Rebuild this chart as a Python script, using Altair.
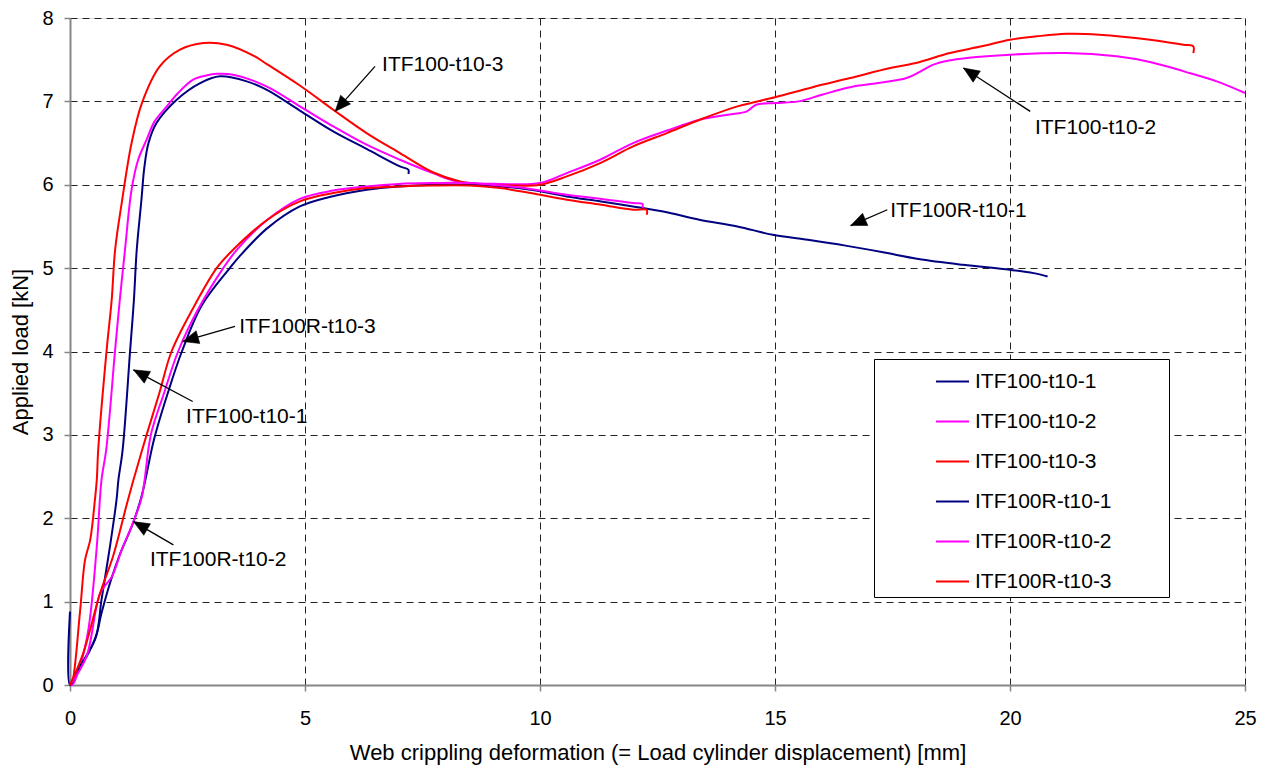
import math
import altair as alt
import pandas as pd

FONT = "Liberation Sans"
W, H = 1175, 667
X_MAX, Y_MAX = 25, 8

SERIES = ["ITF100-t10-1", "ITF100-t10-2", "ITF100-t10-3",
          "ITF100R-t10-1", "ITF100R-t10-2", "ITF100R-t10-3"]
COLORS = ["#000080", "#FF00FF", "#FF0000", "#000080", "#FF00FF", "#FF0000"]

# ITF100-t10-1 (navy, steep)
s1_x = [0, 0.14, 0.39, 0.57, 0.67, 0.85, 0.99, 1.03, 1.12, 1.28, 1.36, 1.42, 1.52, 1.58,
        1.67, 1.84, 2.27, 2.77, 3.19, 3.76, 4.18, 4.89, 5.6, 6.31, 7.02, 7.2, 7.2]
s1_y = [0, 0.14, 0.38, 0.62, 1.02, 1.66, 2.22, 2.46, 2.82, 4.02, 4.62, 5.22, 5.82, 6.2,
        6.50, 6.74, 7.02, 7.22, 7.30, 7.24, 7.14, 6.89, 6.64, 6.43, 6.22, 6.18, 6.13]

# ITF100-t10-2 (magenta, steep then rising)
s2_x = [0, 0.05, 0.21, 0.39, 0.57, 0.67, 0.77, 0.96, 1.06, 1.17, 1.31, 1.45, 1.63, 1.8,
        2.06, 2.3, 2.62, 2.9, 3.12, 3.47, 4.18, 4.89, 5.6, 6.31, 7.02, 7.72, 8.23, 9.15,
        10.0, 10.57, 11.28, 11.98, 12.7, 13.4, 14.0, 14.4, 14.6, 15.0, 15.5, 16.0, 16.6,
        17.2, 17.8, 18.1, 18.37, 18.7, 19.08, 20.0, 21.2, 22.27, 23.0, 23.7, 24.4, 25.0]
s2_y = [0, 0.0, 0.22, 0.66, 1.66, 2.46, 2.82, 4.02, 4.62, 5.22, 5.94, 6.3, 6.54, 6.76,
        6.94, 7.1, 7.26, 7.31, 7.33, 7.32, 7.18, 6.94, 6.70, 6.48, 6.30, 6.14, 6.04, 6.01,
        6.02, 6.14, 6.30, 6.50, 6.65, 6.78, 6.84, 6.88, 6.96, 6.98, 7.0, 7.08, 7.17,
        7.22, 7.28, 7.36, 7.44, 7.49, 7.52, 7.56, 7.58, 7.54, 7.47, 7.36, 7.24, 7.10]

# ITF100-t10-3 (red, steep then rising)
s3_x = [0, 0.04, 0.21, 0.32, 0.43, 0.53, 0.57, 0.60, 0.78, 0.887, 0.96, 1.10, 1.31, 1.53,
        1.91, 2.34, 2.84, 3.33, 3.90, 4.18, 4.89, 5.60, 6.31, 7.02, 7.72, 8.30, 8.87, 9.50,
        10.0, 10.57, 11.28, 11.98, 12.70, 13.40, 14.2, 15.0, 15.8, 16.6, 17.45, 18.0,
        18.72, 19.4, 20.0, 20.57, 21.2, 21.9, 22.98, 23.69, 23.9, 23.9]
s3_y = [0, 0.02, 0.86, 1.50, 1.74, 2.22, 2.46, 2.82, 4.02, 4.62, 5.22, 5.78, 6.50, 6.98,
        7.42, 7.62, 7.70, 7.68, 7.55, 7.45, 7.19, 6.90, 6.62, 6.38, 6.15, 6.04, 6.00, 5.99,
        6.00, 6.10, 6.26, 6.46, 6.62, 6.78, 6.94, 7.05, 7.17, 7.28, 7.40, 7.46,
        7.58, 7.66, 7.74, 7.78, 7.81, 7.80, 7.74, 7.68, 7.66, 7.58]

# ITF100R-t10-1 (navy, gradual)
s4_x = [0, 0, 0.21, 0.53, 0.67, 0.85, 1.05, 1.34, 1.53, 1.79, 2.08, 2.38, 2.8, 3.40, 3.62,
        4.2, 4.89, 5.5, 6.31, 7.0, 7.72, 8.5, 9.15, 9.8, 10.57, 11.3, 11.98, 12.7, 13.39,
        14.2, 14.95, 15.7, 16.5, 17.3, 18.05, 19.0, 19.99, 20.5, 20.8]
s4_y = [0.88, 0, 0.22, 0.54, 0.86, 1.22, 1.55, 1.94, 2.28, 2.95, 3.5, 4.0, 4.55, 5.0, 5.15,
        5.48, 5.74, 5.85, 5.94, 5.98, 6.0, 6.0, 5.98, 5.94, 5.86, 5.80, 5.74, 5.67, 5.58,
        5.50, 5.40, 5.34, 5.27, 5.19, 5.11, 5.04, 4.98, 4.94, 4.90]

# ITF100R-t10-2 (magenta, gradual)
s5_x = [0, 0.35, 0.64, 0.89, 1.1, 1.35, 1.53, 1.72, 2.0, 2.30, 2.72, 3.26, 3.55, 4.2, 4.89,
        5.6, 6.31, 7.0, 7.72, 8.5, 9.15, 9.8, 10.57, 11.3, 11.98, 12.18, 12.18]
s5_y = [0, 0.34, 1.10, 1.30, 1.62, 1.96, 2.26, 3.0, 3.5, 4.0, 4.5, 5.0, 5.22, 5.58, 5.83,
        5.93, 5.98, 6.01, 6.02, 6.02, 5.99, 5.95, 5.88, 5.83, 5.78, 5.77, 5.72]

# ITF100R-t10-3 (red, gradual)
s6_x = [0, 0.28, 0.64, 0.92, 1.2, 1.35, 1.63, 1.9, 2.16, 2.6, 3.12, 3.47, 4.2, 4.89, 5.6,
        6.31, 7.0, 7.72, 8.5, 9.15, 9.8, 10.57, 11.3, 11.98, 12.27, 12.27]
s6_y = [0, 0.38, 1.10, 1.55, 2.15, 2.46, 3.0, 3.5, 4.0, 4.5, 5.0, 5.22, 5.58, 5.80, 5.90,
        5.96, 5.98, 5.99, 5.99, 5.96, 5.90, 5.82, 5.76, 5.70, 5.70, 5.64]

SERIES_X = [s1_x, s2_x, s3_x, s4_x, s5_x, s6_x]
SERIES_Y = [s1_y, s2_y, s3_y, s4_y, s5_y, s6_y]

# annotations (data coordinates)
ann_text = ["ITF100-t10-3", "ITF100-t10-2", "ITF100R-t10-1",
            "ITF100R-t10-3", "ITF100-t10-1", "ITF100R-t10-2"]
ann_tx = [6.64, 20.53, 17.45, 3.60, 2.47, 1.70]
ann_ty = [7.44, 6.68, 5.69, 4.29, 3.21, 1.50]
arr_x0 = [6.49, 20.43, 17.39, 3.51, 2.61, 2.20]
arr_y0 = [7.42, 6.88, 5.70, 4.30, 3.40, 1.68]
arr_x1 = [5.64, 19.01, 16.61, 2.40, 1.35, 1.35]
arr_y1 = [6.88, 7.40, 5.51, 4.12, 3.78, 1.96]

X_TICKS = [0, 5, 10, 15, 20, 25]
Y_TICKS = [0, 1, 2, 3, 4, 5, 6, 7, 8]

rows = []
for name, xs, ys in zip(SERIES, SERIES_X, SERIES_Y):
    for i, (xv, yv) in enumerate(zip(xs, ys)):
        rows.append({"series": name, "x": xv, "y": yv, "idx": i})
df = pd.DataFrame(rows)

px_x = W / X_MAX
px_y = H / Y_MAX
angles = []
for x0, y0, x1, y1 in zip(arr_x0, arr_y0, arr_x1, arr_y1):
    dx = (x1 - x0) * px_x
    dy = -(y1 - y0) * px_y
    angles.append(math.degrees(math.atan2(dx, -dy)) % 360)

ann = pd.DataFrame({"text": ann_text, "tx": ann_tx, "ty": ann_ty,
                    "x0": arr_x0, "y0": arr_y0, "x1": arr_x1, "y1": arr_y1,
                    "angle": angles})

xscale = alt.Scale(domain=[0, X_MAX], nice=False, zero=False)
yscale = alt.Scale(domain=[0, Y_MAX], nice=False, zero=False)

xaxis = alt.Axis(values=X_TICKS, format="d",
                 title="Web crippling deformation (= Load cylinder displacement) [mm]",
                 grid=True, gridDash=[7, 5], gridColor="#222222", gridWidth=1,
                 domainColor="#868686", domainWidth=2, tickColor="#868686", tickWidth=1.5,
                 tickSize=6, labelFont=FONT, labelFontSize=20, labelColor="black",
                 labelPadding=17, titleFont=FONT, titleFontSize=22, titleFontWeight="normal",
                 titleColor="black", titlePadding=14, labelFlush=False)
yaxis = alt.Axis(values=Y_TICKS, format="d", title="Applied load [kN]",
                 grid=True, gridDash=[7, 5], gridColor="#222222", gridWidth=1,
                 domainColor="#868686", domainWidth=2, tickColor="#868686", tickWidth=1.5,
                 tickSize=6, labelFont=FONT, labelFontSize=20, labelColor="black",
                 labelPadding=11, titleFont=FONT, titleFontSize=22, titleFontWeight="normal",
                 titleColor="black", titlePadding=9, labelFlush=False)

legend = alt.Legend(orient="none", legendX=804, legendY=341, title="\u00a0",
                    titleOrient="right", titlePadding=52, titleFontSize=21,
                    symbolType="stroke", symbolSize=1089, symbolStrokeWidth=2,
                    labelFont=FONT, labelFontSize=21, labelColor="black", labelOffset=5,
                    rowPadding=12, padding=5, symbolOffset=56, strokeColor="black",
                    fillColor="white", labelLimit=400)

lines = alt.Chart(df).mark_line(strokeWidth=2, strokeJoin="round",
                                interpolate="catmull-rom").encode(
    x=alt.X("x:Q", scale=xscale, axis=xaxis),
    y=alt.Y("y:Q", scale=yscale, axis=yaxis),
    color=alt.Color("series:N", scale=alt.Scale(domain=SERIES, range=COLORS), legend=legend),
    order="idx:Q",
)

base = alt.Chart(ann)
arrows = base.mark_rule(color="black", strokeWidth=1.3).encode(
    x=alt.X("x0:Q", scale=xscale), y=alt.Y("y0:Q", scale=yscale),
    x2="x1:Q", y2="y1:Q")
heads = base.mark_point(shape="M0,0L-0.42,1L0.42,1Z", filled=True, fill="black",
                        stroke="black", strokeWidth=0.5, opacity=1, size=1000).encode(
    x=alt.X("x1:Q", scale=xscale), y=alt.Y("y1:Q", scale=yscale),
    angle=alt.Angle("angle:Q", scale=None))
labels = base.mark_text(align="left", baseline="middle", font=FONT, fontSize=21,
                        color="black").encode(
    x=alt.X("tx:Q", scale=xscale), y=alt.Y("ty:Q", scale=yscale), text="text:N")

chart = alt.layer(lines, arrows, heads, labels).properties(
    width=W, height=H,
    autosize=alt.AutoSizeParams(type="none"),
    padding={"left": 62, "top": 10, "right": 18, "bottom": 86},
).configure_view(stroke=None).configure(background="white")

chart.save("out.html", embed_options={"renderer": "svg", "actions": False})
